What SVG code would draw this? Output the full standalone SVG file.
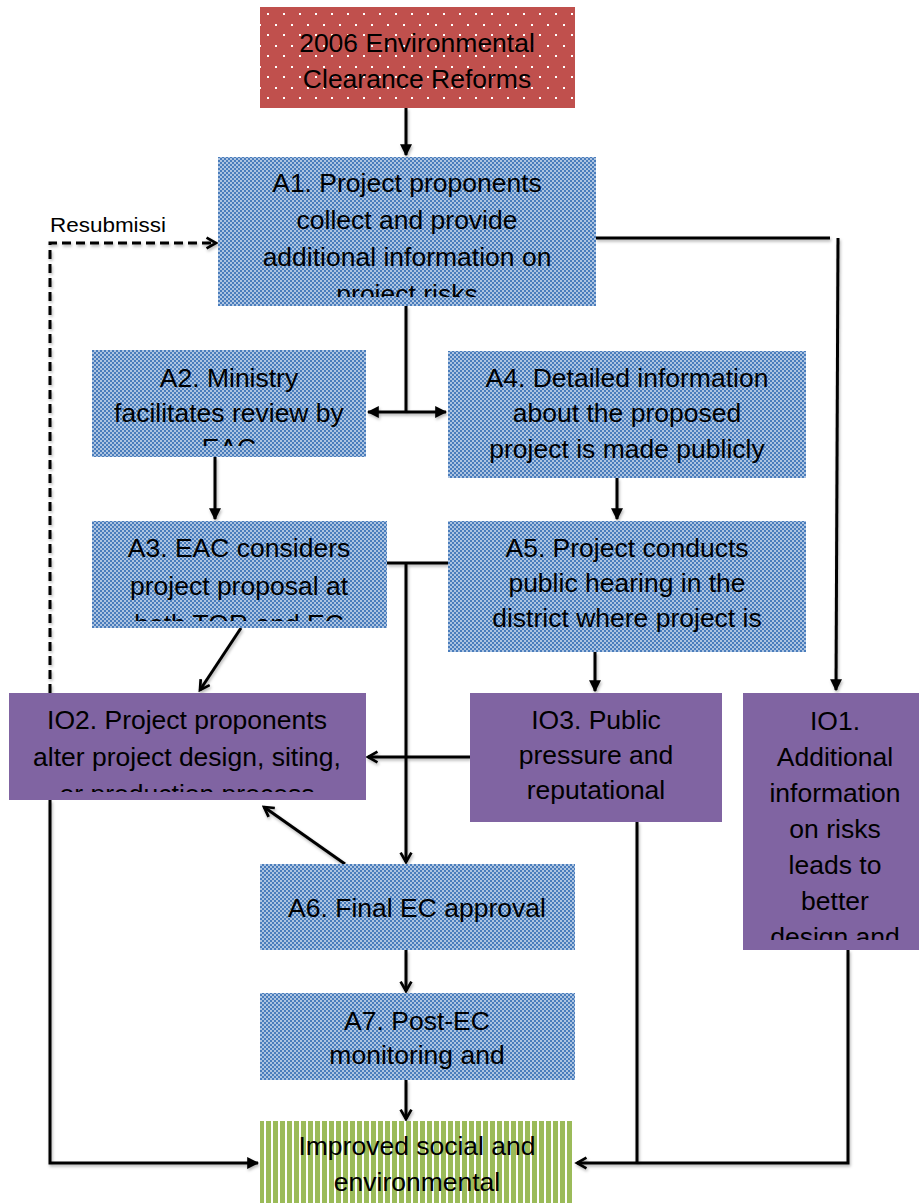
<svg xmlns="http://www.w3.org/2000/svg" width="919" height="1203" viewBox="0 0 919 1203">
<style>
text{font-family:"Liberation Sans",Arial,sans-serif;font-size:26.5px;fill:#000;text-anchor:middle}
.ln{fill:none;stroke:#000;stroke-width:3}
.dash{fill:none;stroke:#000;stroke-width:3;stroke-dasharray:9 5}
.blue{fill:url(#checker)}
.purple{fill:#8064a2}
.lbl{font-size:20px;text-anchor:start}
</style>
<defs>
<pattern id="checker" width="4" height="4" patternUnits="userSpaceOnUse">
<rect width="4" height="4" fill="#4a7dbc"/>
<rect width="2" height="2" fill="#ffffff" fill-opacity="0.55"/>
<rect x="2" y="2" width="2" height="2" fill="#ffffff" fill-opacity="0.55"/>
</pattern>
<pattern id="dots" width="16" height="21" patternUnits="userSpaceOnUse">
<rect width="16" height="21" fill="#c0504d"/>
<rect x="3" y="3" width="2" height="2" fill="#ffffff"/>
<rect x="11" y="13" width="2" height="2" fill="#ffffff"/>
</pattern>
<pattern id="stripes" width="7" height="10" patternUnits="userSpaceOnUse">
<rect width="7" height="10" fill="#ffffff"/>
<rect x="0" width="5" height="10" fill="#9bbb59"/>
</pattern>
<marker id="fill" viewBox="0 0 10 10" refX="9" refY="5" markerWidth="4" markerHeight="4" orient="auto" markerUnits="strokeWidth">
<path d="M0,0 L10,5 L0,10 z" fill="#000"/>
</marker>
<marker id="open" viewBox="0 0 10 10" refX="8" refY="5" markerWidth="4.5" markerHeight="4.5" orient="auto" markerUnits="strokeWidth">
<path d="M1,1 L8,5 L1,9" fill="none" stroke="#000" stroke-width="2"/>
</marker>
<filter id="sh" x="-10%" y="-10%" width="120%" height="120%">
<feDropShadow dx="1" dy="2" stdDeviation="1.5" flood-color="#000" flood-opacity="0.3"/>
</filter>
<clipPath id="cA1"><rect x="218" y="157" width="378" height="140"/></clipPath>
<clipPath id="cA2"><rect x="92" y="350" width="274" height="96"/></clipPath>
<clipPath id="cA3"><rect x="92" y="521" width="295" height="100"/></clipPath>
<clipPath id="cIO2"><rect x="9" y="693" width="357" height="99"/></clipPath>
<clipPath id="cIO1"><rect x="743" y="693" width="176" height="247"/></clipPath>
<clipPath id="cG"><rect x="260" y="1121" width="314" height="82"/></clipPath>
</defs>

<g id="connectors" filter="url(#sh)">
<path class="ln" d="M406,108 V155" marker-end="url(#fill)"/>
<path class="ln" d="M406,306 V412"/>
<path class="ln" d="M406,412 H368" marker-end="url(#fill)"/>
<path class="ln" d="M406,412 H446" marker-end="url(#fill)"/>
<path class="ln" d="M596,238 H830"/>
<path class="ln" d="M838,238 L836,690" marker-end="url(#fill)"/>
<path class="ln" d="M215,457 V519" marker-end="url(#fill)"/>
<path class="ln" d="M617,478 V519" marker-end="url(#fill)"/>
<path class="ln" d="M387,563 H448"/>
<path class="ln" d="M406,563 V862" marker-end="url(#open)"/>
<path class="ln" d="M241,628 L200,690" marker-end="url(#open)"/>
<path class="ln" d="M595,652 V691" marker-end="url(#fill)"/>
<path class="ln" d="M470,757 H368" marker-end="url(#open)"/>
<path class="ln" d="M345,864 L264,807" marker-end="url(#open)"/>
<path class="ln" d="M406,950 V991" marker-end="url(#open)"/>
<path class="ln" d="M406,1080 V1119" marker-end="url(#open)"/>
<path class="dash" d="M50,693 V243 H216" marker-end="url(#open)"/>
<path class="ln" d="M50,800 V1163 H258" marker-end="url(#fill)"/>
<path class="ln" d="M637,822 V1163"/>
<path class="ln" d="M848,950 V1163 H577" marker-end="url(#open)"/>
</g>

<g id="label-resubmission">
<text class="lbl" x="50" y="232" textLength="116" lengthAdjust="spacingAndGlyphs">Resubmissi</text>
</g>

<g id="reforms">
<rect x="260" y="7" width="315" height="101" fill="url(#dots)"/>
<text x="417" y="52">2006 Environmental</text>
<text x="417" y="88">Clearance Reforms</text>
</g>

<g id="A1">
<rect class="blue" x="218" y="157" width="378" height="149"/>
<g clip-path="url(#cA1)">
<text x="407" y="192">A1. Project proponents</text>
<text x="407" y="229">collect and provide</text>
<text x="407" y="266">additional information on</text>
<text x="407" y="303">project risks</text>
</g>
</g>

<g id="A2">
<rect class="blue" x="92" y="350" width="274" height="107"/>
<g clip-path="url(#cA2)">
<text x="229" y="387">A2. Ministry</text>
<text x="229" y="422">facilitates review by</text>
<text x="229" y="457">EAC</text>
</g>
</g>

<g id="A4">
<rect class="blue" x="448" y="351" width="358" height="127"/>
<text x="627" y="387">A4. Detailed information</text>
<text x="627" y="422">about the proposed</text>
<text x="627" y="458">project is made publicly</text>
</g>

<g id="A3">
<rect class="blue" x="92" y="521" width="295" height="107"/>
<g clip-path="url(#cA3)">
<text x="239" y="557">A3. EAC considers</text>
<text x="239" y="595">project proposal at</text>
<text x="239" y="633">both TOR and EC</text>
</g>
</g>

<g id="A5">
<rect class="blue" x="448" y="521" width="358" height="131"/>
<text x="627" y="557">A5. Project conducts</text>
<text x="627" y="592">public hearing in the</text>
<text x="627" y="627">district where project is</text>
</g>

<g id="IO2">
<rect class="purple" x="9" y="693" width="357" height="107"/>
<g clip-path="url(#cIO2)">
<text x="187" y="729">IO2. Project proponents</text>
<text x="187" y="766">alter project design, siting,</text>
<text x="187" y="803">or production process</text>
</g>
</g>

<g id="IO3">
<rect class="purple" x="470" y="693" width="252" height="129"/>
<text x="596" y="729">IO3. Public</text>
<text x="596" y="764">pressure and</text>
<text x="596" y="799">reputational</text>
</g>

<g id="IO1">
<rect class="purple" x="743" y="693" width="176" height="257"/>
<g clip-path="url(#cIO1)">
<text x="835" y="730">IO1.</text>
<text x="835" y="766">Additional</text>
<text x="835" y="802">information</text>
<text x="835" y="838">on risks</text>
<text x="835" y="874">leads to</text>
<text x="835" y="910">better</text>
<text x="835" y="946">design and</text>
</g>
</g>

<g id="A6">
<rect class="blue" x="260" y="864" width="315" height="86"/>
<text x="417" y="917">A6. Final EC approval</text>
</g>

<g id="A7">
<rect class="blue" x="260" y="993" width="315" height="87"/>
<text x="417" y="1030">A7. Post-EC</text>
<text x="417" y="1064">monitoring and</text>
</g>

<g id="outcome">
<rect x="260" y="1121" width="314" height="82" fill="url(#stripes)"/>
<g clip-path="url(#cG)">
<text x="417" y="1155">Improved  social and</text>
<text x="417" y="1191">environmental</text>
</g>
</g>
</svg>
